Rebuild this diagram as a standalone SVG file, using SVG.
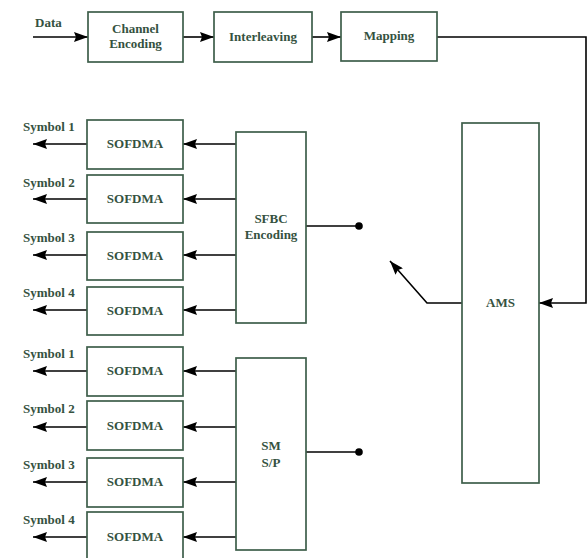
<svg xmlns="http://www.w3.org/2000/svg" width="587" height="558" viewBox="0 0 587 558">
<defs>
<marker id="ah" viewBox="0 0 14 10" refX="14" refY="5" markerWidth="14" markerHeight="10" markerUnits="userSpaceOnUse" orient="auto">
<path d="M0,0 L14,5 L0,10 L2,5 z" fill="#000"/>
</marker>
</defs>
<style>
.box{fill:#fff;stroke:#3e5e4a;stroke-width:1.7}
.t{font-family:"Liberation Serif","Times New Roman",serif;font-weight:bold;font-size:13px;fill:#35523f;text-anchor:middle}
.l{font-family:"Liberation Serif","Times New Roman",serif;font-weight:bold;font-size:13px;fill:#35523f}
.c{fill:none;stroke:#000;stroke-width:1.6}
.a{fill:none;stroke:#000;stroke-width:1.6;marker-end:url(#ah)}
</style>
<rect width="587" height="558" fill="#fff"/>
<g id="connectors">
<line class="a" x1="33" y1="37" x2="88" y2="37"/>
<line class="a" x1="183" y1="37" x2="214" y2="37"/>
<line class="a" x1="312" y1="37" x2="341" y2="37"/>
<polyline class="a" points="437,37 586,37 586,303 539,303"/>
<polyline class="a" points="462,303 427,303 390,261"/>
<line class="c" x1="306" y1="226" x2="359" y2="226"/>
<circle cx="359" cy="226" r="3.8" fill="#000"/>
<line class="c" x1="306" y1="452" x2="359" y2="452"/>
<circle cx="359" cy="452" r="3.8" fill="#000"/>
<line class="a" x1="236" y1="144" x2="183" y2="144"/>
<line class="a" x1="236" y1="199" x2="183" y2="199"/>
<line class="a" x1="236" y1="255" x2="183" y2="255"/>
<line class="a" x1="236" y1="310" x2="183" y2="310"/>
<line class="a" x1="236" y1="371" x2="183" y2="371"/>
<line class="a" x1="236" y1="427" x2="183" y2="427"/>
<line class="a" x1="236" y1="482" x2="183" y2="482"/>
<line class="a" x1="236" y1="537" x2="183" y2="537"/>
<line class="a" x1="87" y1="144" x2="33" y2="144"/>
<line class="a" x1="87" y1="199" x2="33" y2="199"/>
<line class="a" x1="87" y1="255" x2="33" y2="255"/>
<line class="a" x1="87" y1="310" x2="33" y2="310"/>
<line class="a" x1="87" y1="371" x2="33" y2="371"/>
<line class="a" x1="87" y1="427" x2="33" y2="427"/>
<line class="a" x1="87" y1="482" x2="33" y2="482"/>
<line class="a" x1="87" y1="537" x2="33" y2="537"/>
</g>
<g id="labels">
<text class="l" x="35" y="27">Data</text>
<text class="l" x="23" y="131">Symbol 1</text>
<text class="l" x="23" y="187">Symbol 2</text>
<text class="l" x="23" y="242">Symbol 3</text>
<text class="l" x="23" y="297">Symbol 4</text>
<text class="l" x="23" y="358">Symbol 1</text>
<text class="l" x="23" y="413">Symbol 2</text>
<text class="l" x="23" y="469">Symbol 3</text>
<text class="l" x="23" y="524">Symbol 4</text>
</g>
<g id="channel-encoding"><rect class="box" x="88" y="12" width="95" height="50"/><text class="t" x="135.5" y="33">Channel</text><text class="t" x="135.5" y="48">Encoding</text></g>
<g id="interleaving"><rect class="box" x="214" y="12" width="98" height="50"/><text class="t" x="263" y="41">Interleaving</text></g>
<g id="mapping"><rect class="box" x="341" y="12" width="96" height="49"/><text class="t" x="389" y="40">Mapping</text></g>
<g id="ams"><rect class="box" x="462" y="123" width="77" height="360"/><text class="t" x="500.5" y="307">AMS</text></g>
<g id="sfbc"><rect class="box" x="236" y="132" width="70" height="191"/><text class="t" x="271" y="223">SFBC</text><text class="t" x="271" y="239">Encoding</text></g>
<g id="sm"><rect class="box" x="236" y="358" width="70" height="192"/><text class="t" x="271" y="450">SM</text><text class="t" x="271" y="467">S/P</text></g>
<g id="sofdma1"><rect class="box" x="87" y="120" width="96" height="49"/><text class="t" x="135" y="148">SOFDMA</text></g>
<g id="sofdma2"><rect class="box" x="87" y="175" width="96" height="48"/><text class="t" x="135" y="203">SOFDMA</text></g>
<g id="sofdma3"><rect class="box" x="87" y="232" width="96" height="48"/><text class="t" x="135" y="260">SOFDMA</text></g>
<g id="sofdma4"><rect class="box" x="87" y="287" width="96" height="48"/><text class="t" x="135" y="315">SOFDMA</text></g>
<g id="sofdma5"><rect class="box" x="87" y="347" width="96" height="49"/><text class="t" x="135" y="375">SOFDMA</text></g>
<g id="sofdma6"><rect class="box" x="87" y="401" width="96" height="49"/><text class="t" x="135" y="430">SOFDMA</text></g>
<g id="sofdma7"><rect class="box" x="87" y="458" width="96" height="49"/><text class="t" x="135" y="486">SOFDMA</text></g>
<g id="sofdma8"><rect class="box" x="87" y="512" width="96" height="48"/><text class="t" x="135" y="541">SOFDMA</text></g>
</svg>
